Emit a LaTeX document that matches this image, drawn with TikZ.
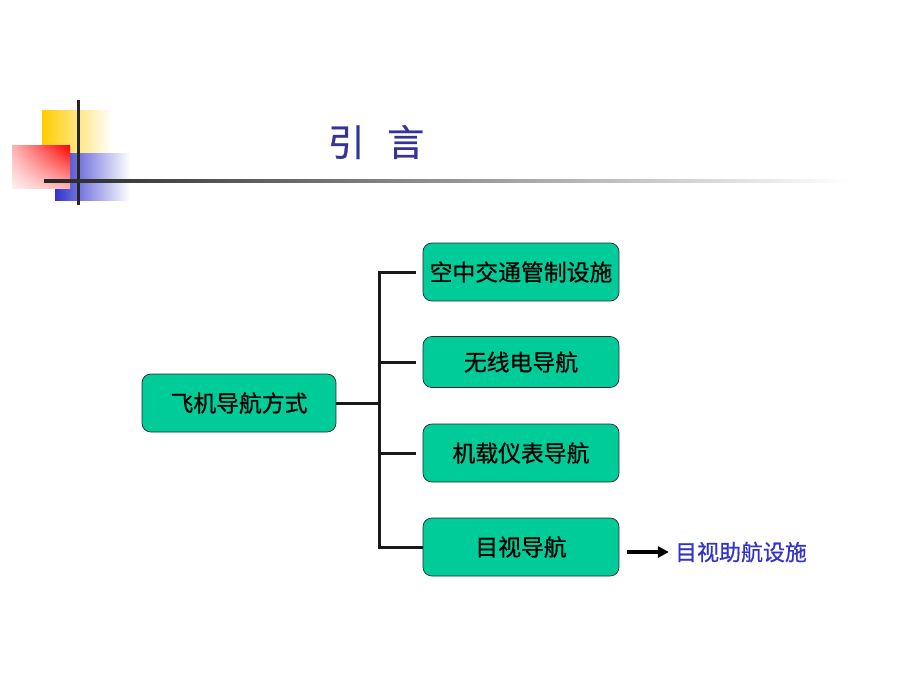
\documentclass[tikz,border=0pt]{standalone}
\usepackage{fontspec}
\newfontfamily\cjk{Noto Sans CJK SC}
\newfontfamily\cjkmed[FakeBold=0.7]{Noto Sans CJK SC}
\usetikzlibrary{arrows.meta,shadings}
\definecolor{boxgreen}{HTML}{00CC99}
\definecolor{titleblue}{HTML}{333399}
\definecolor{labelblue}{HTML}{3333CC}
\definecolor{decoyellow}{HTML}{FFCC00}
\definecolor{decoblue}{HTML}{3333CC}
\begin{document}
\begin{tikzpicture}[x=0.02cm,y=-0.02cm,
    navbox/.style={draw=black!85, fill=boxgreen, rounded corners=5pt, thin,
        minimum width=3.92cm, minimum height=1.16cm, font=\cjkmed\fontsize{13}{15}\selectfont},
    branch/.style={line width=0.06cm, black!90}]
        \useasboundingbox (0,0) rectangle (920,690);

        % corner decoration
        \shade[left color=decoyellow, middle color=decoyellow, right color=white] (42,110) rectangle (112,153);
        \shade[left color=decoblue, middle color=decoblue, right color=white] (55,153) rectangle (130,200);
        \shade[upper right=red, upper left=red!30, lower left=red!6, lower right=red!30] (12,145) rectangle (70,188);
        \fill[black!85] (76.5,100) rectangle (79.5,205);
        \shade[left color=black!85, right color=white] (44,179.5) rectangle (850,182.5);

        \node[text=titleblue, font=\cjkmed\fontsize{21}{24}\selectfont] (title) at (376,142) {引\hspace{0.45cm}言};

        \node[navbox, minimum width=3.88cm] (main) at (239,403) {飞机导航方式};
        \node[navbox] (b1) at (521,272) {空中交通管制设施};
        \node[navbox, minimum height=1.02cm] (b2) at (521,362) {无线电导航};
        \node[navbox] (b3) at (521,453) {机载仪表导航};
        \node[navbox] (b4) at (521,547) {目视导航};

        \coordinate (fork) at (379,403);
        \draw[branch] (main.east) -- (fork);
        \draw[branch, shorten >=7*0.02cm] (fork) |- (b1.west);
        \draw[branch, shorten >=7*0.02cm] (fork) |- (b2.west);
        \draw[branch, shorten >=7*0.02cm] (fork) |- (b3.west);
        \draw[branch] (fork) |- (b4.west);

        \node[text=labelblue, font=\cjkmed\fontsize{12.5}{15}\selectfont] (visaid) at (741,552) {目视助航设施};
        \draw[line width=0.07cm, -{Triangle[length=0.22cm,width=0.22cm]}, shorten <=8*0.02cm] (b4.east |- visaid.west) -- (visaid.west);
    \end{tikzpicture}
\end{document}
